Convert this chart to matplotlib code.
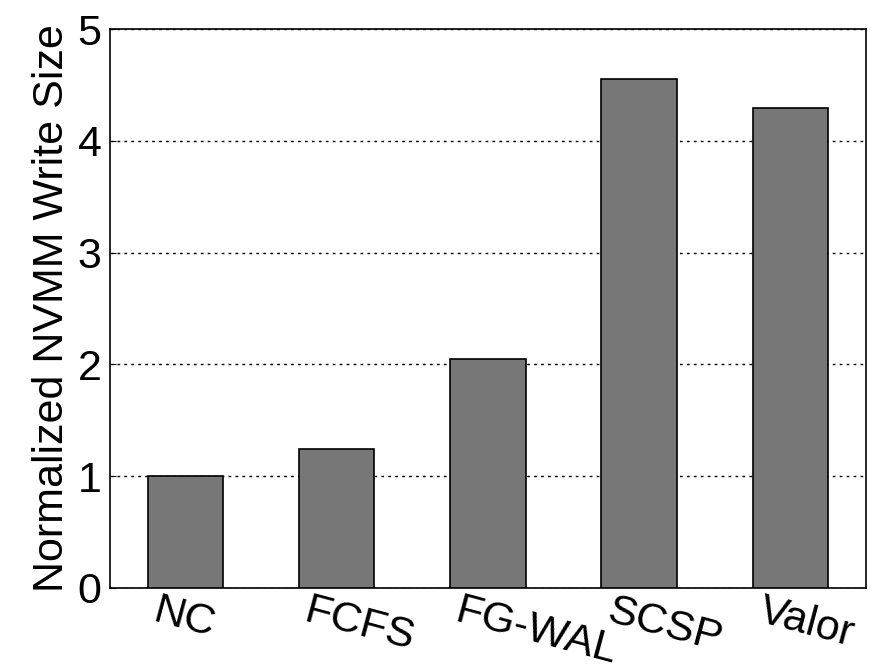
import matplotlib
matplotlib.use("Agg")
import matplotlib.pyplot as plt
import matplotlib.transforms as mtransforms
import numpy as np

schemes = ["NC", "FCFS", "FG-WAL", "SCSP", "Valor"]
write_size = [1.0, 1.24, 2.05, 4.55, 4.29]

plt.rcParams['font.family'] = ['Liberation Sans', 'DejaVu Sans']

fig = plt.figure(figsize=(8.85, 6.7), dpi=100)
ax = fig.add_axes([0.124, 0.1224, 0.8545, 0.8343])

x = np.arange(len(schemes))
ax.bar(x, write_size, width=0.5, color="#777777", edgecolor="black", linewidth=1.2, zorder=3)

ax.set_xlim(-0.5, len(schemes) - 0.5)
ax.set_ylim(0, 5)
ax.set_yticks([0, 1, 2, 3, 4, 5])
ax.yaxis.grid(True, linestyle=(0, (2, 3)), color="black", linewidth=1.0, zorder=0)
ax.tick_params(axis="y", direction="in", length=4, labelsize=31, pad=6)
ax.tick_params(axis="x", length=0, labelsize=31, pad=2)
ax.set_xticks(x)
ax.set_xticklabels(schemes, rotation=-15, ha="left", rotation_mode="anchor")
offset = mtransforms.ScaledTranslation(-26 / 100, 0, fig.dpi_scale_trans)
for lbl in ax.get_xticklabels():
    lbl.set_transform(lbl.get_transform() + offset)

ax.set_ylabel("Normalized NVMM Write Size", fontsize=31, labelpad=4)
for s in ax.spines.values():
    s.set_linewidth(1.2)

fig.savefig("out.png", dpi=100)
